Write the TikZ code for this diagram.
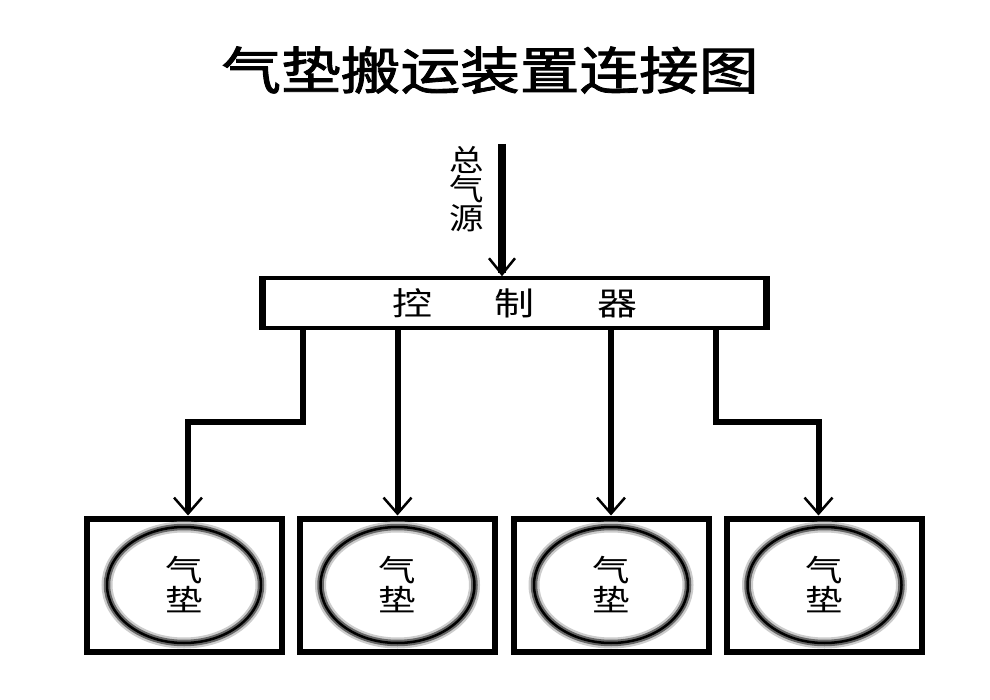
\documentclass[tikz,border=0pt]{standalone}
\usepackage{fontspec}
\usepackage{graphicx}
\setmainfont{Noto Sans CJK SC}
\newfontfamily\titlefont[FakeBold=1.6]{Noto Sans CJK SC}
\usetikzlibrary{shapes.geometric,arrows.meta}

%Stretched Chinese glyphs
\newcommand{\wideCJK}[2]{\scalebox{#1}[1]{#2}}

\begin{document}
\begin{tikzpicture}[x=1pt,y=-1pt,
  padbox/.style={draw,line width=6pt,minimum width=195pt,minimum height=133pt,inner sep=0pt},
  padring/.style={ellipse,draw=black,line width=2.5pt,minimum width=154pt,minimum height=116pt,inner sep=0pt,
    preaction={draw=black!20,line width=11pt},
    preaction={draw=black!60,line width=6.5pt},
    font=\fontsize{30}{30}\selectfont,align=center},
  feed/.style={line width=6pt,-{Straight Barb[length=16pt,width=28pt,line width=2.5pt]}},
]

%Page
\fill[white] (0,0) rectangle (990,700);
\useasboundingbox (0,0) rectangle (990,700);

%Title
\node[font=\fontsize{51}{51}\titlefont] (title) at (490,70) {\wideCJK{1.17}{气垫搬运装置连接图}};

%Controller
\node[draw,line width=3.5pt,minimum width=501pt,minimum height=50pt,inner sep=0pt,
  font=\fontsize{32}{32}\selectfont] (ctrl) at (514.5,303) {\raisebox{-3pt}{\wideCJK{1.25}{控\hspace{50pt}制\hspace{50pt}器}}};
\draw[line width=7pt] (ctrl.north west) -- (ctrl.south west);
\draw[line width=7pt] (ctrl.north east) -- (ctrl.south east);

%Main air source
\coordinate (src) at (502,144);
\draw[line width=8pt,-{Straight Barb[length=16pt,width=26pt,line width=2.5pt]}] (src) -- (src |- ctrl.north);
\node[font=\fontsize{30}{29}\selectfont,align=center] (srclabel) at (467,189)
  {\wideCJK{1.15}{总}\\\wideCJK{1.15}{气}\\\wideCJK{1.15}{源}};

%Air cushions
\node[padbox] (pad1) at (184,585) {};
\node[padring] (cush1) at (pad1.center) {\wideCJK{1.25}{气}\\\wideCJK{1.25}{垫}};

\node[padbox] (pad2) at (397.5,585) {};
\node[padring] (cush2) at (pad2.center) {\wideCJK{1.25}{气}\\\wideCJK{1.25}{垫}};

\node[padbox] (pad3) at (611,585) {};
\node[padring] (cush3) at (pad3.center) {\wideCJK{1.25}{气}\\\wideCJK{1.25}{垫}};

\node[padbox] (pad4) at (824.5,585) {};
\node[padring] (cush4) at (pad4.center) {\wideCJK{1.25}{气}\\\wideCJK{1.25}{垫}};

%Feed lines
\coordinate (out1) at (303,330);
\draw[feed] (out1) -- (out1 |- 0,422) -| ([xshift=4pt]pad1.north);
\draw[feed] (pad2.north |- ctrl.south) -- (pad2.north);
\draw[feed] (pad3.north |- ctrl.south) -- (pad3.north);
\coordinate (out4) at (716,330);
\draw[feed] (out4) -- (out4 |- 0,422) -| ([xshift=-6pt]pad4.north);

\end{tikzpicture}
\end{document}
